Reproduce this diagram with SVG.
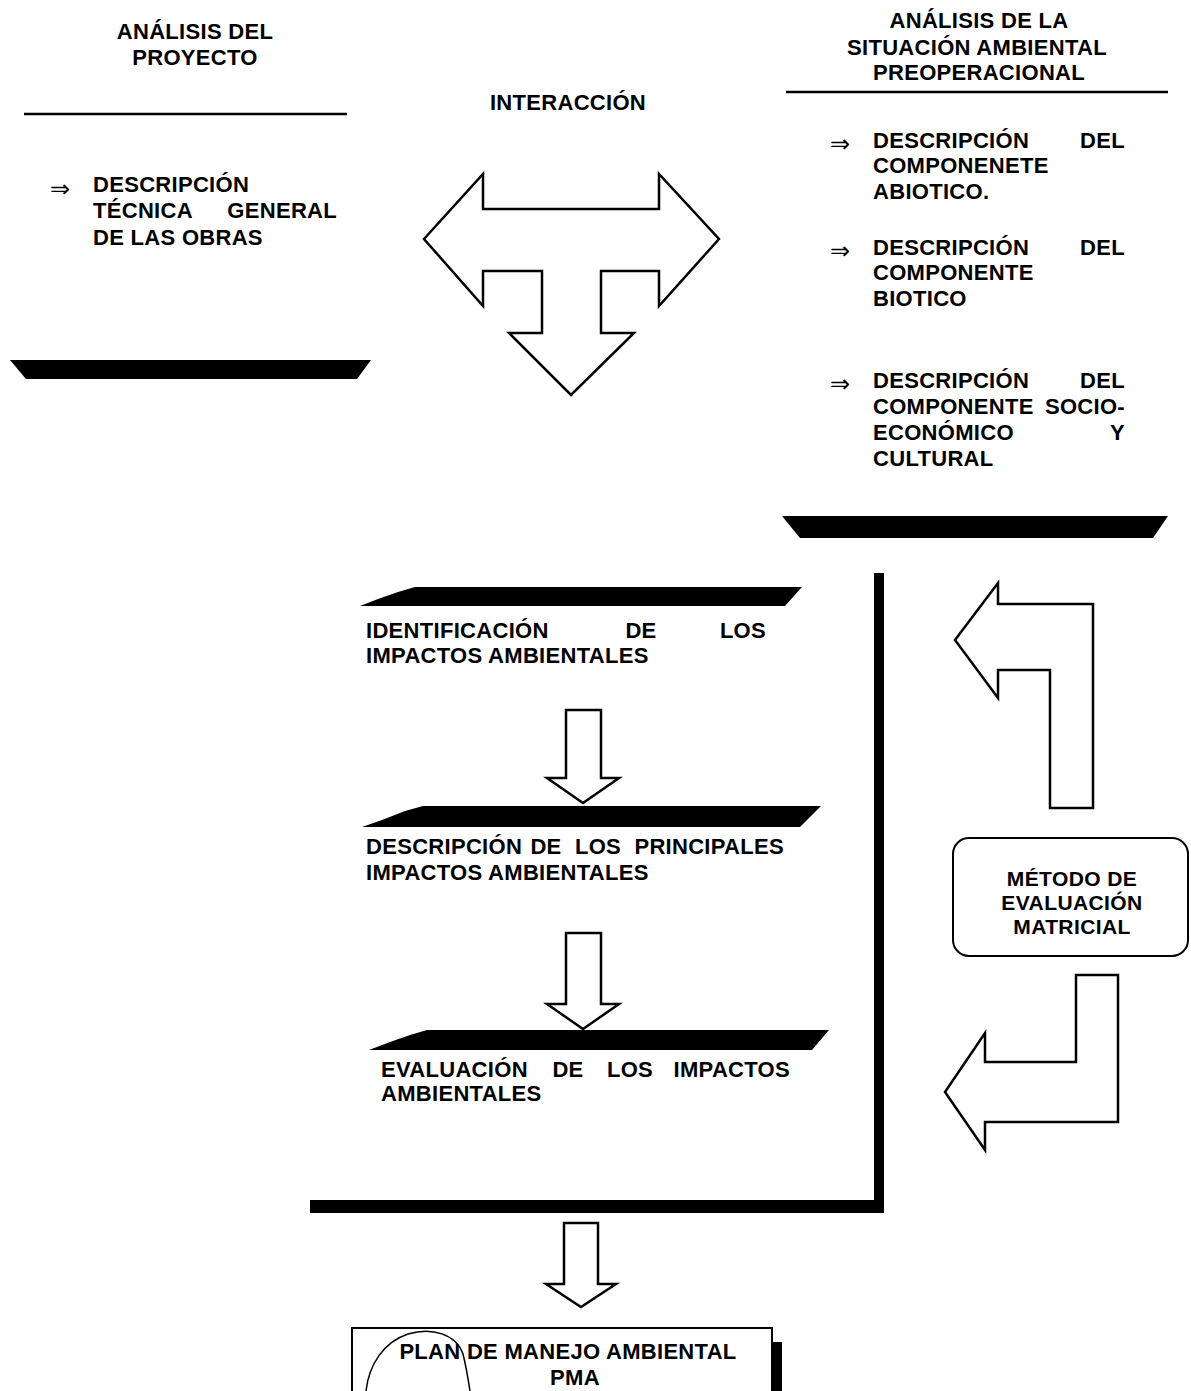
<svg xmlns="http://www.w3.org/2000/svg" width="1191" height="1391" viewBox="0 0 1191 1391">
<style>
.t{font-family:"Liberation Sans",Arial,sans-serif;font-weight:bold;font-size:22px;letter-spacing:0.3px;fill:#000}
.c{text-anchor:middle}
.b{font-family:"DejaVu Sans","Liberation Sans",sans-serif;font-size:24px;fill:#000}
.m{font-family:"Liberation Sans",Arial,sans-serif;font-weight:bold;font-size:21px;letter-spacing:0.4px;text-anchor:middle;fill:#000}
.ar{fill:#fff;stroke:#000;stroke-width:2.5;stroke-linejoin:miter}
.bar{fill:#000}
</style>
<rect width="1191" height="1391" fill="#fff"/>

<g id="analisis-proyecto">
<text class="t c" x="195" y="39">ANÁLISIS DEL</text>
<text class="t c" x="195" y="65">PROYECTO</text>
<line x1="24" y1="114" x2="347" y2="114" stroke="#000" stroke-width="2.5"/>
<text class="b" x="50" y="197">⇒</text>
<text class="t" x="93" y="192">DESCRIPCIÓN</text>
<text class="t" y="218"><tspan x="93">TÉCNICA</tspan><tspan x="337" text-anchor="end">GENERAL</tspan></text>
<text class="t" x="93" y="245">DE LAS OBRAS</text>
<polygon class="bar" points="10,360 371,360 357,379 26,379"/>
</g>

<g id="interaccion">
<text class="t c" x="568" y="110">INTERACCIÓN</text>
</g>

<g id="situacion-ambiental">
<text class="t c" x="979" y="28">ANÁLISIS DE LA</text>
<text class="t c" x="977" y="55">SITUACIÓN AMBIENTAL</text>
<text class="t c" x="979" y="80">PREOPERACIONAL</text>
<line x1="786" y1="92" x2="1168" y2="92" stroke="#000" stroke-width="2.5"/>
<text class="b" x="830" y="152">⇒</text>
<text class="t" y="148"><tspan x="873">DESCRIPCIÓN</tspan><tspan x="1125" text-anchor="end">DEL</tspan></text>
<text class="t" x="873" y="173">COMPONENETE</text>
<text class="t" x="873" y="199">ABIOTICO.</text>
<text class="b" x="830" y="259">⇒</text>
<text class="t" y="255"><tspan x="873">DESCRIPCIÓN</tspan><tspan x="1125" text-anchor="end">DEL</tspan></text>
<text class="t" x="873" y="280">COMPONENTE</text>
<text class="t" x="873" y="306">BIOTICO</text>
<text class="b" x="830" y="392">⇒</text>
<text class="t" y="388"><tspan x="873">DESCRIPCIÓN</tspan><tspan x="1125" text-anchor="end">DEL</tspan></text>
<text class="t" y="414"><tspan x="873">COMPONENTE</tspan><tspan x="1125" text-anchor="end">SOCIO-</tspan></text>
<text class="t" y="440"><tspan x="873">ECONÓMICO</tspan><tspan x="1125" text-anchor="end">Y</tspan></text>
<text class="t" x="873" y="466">CULTURAL</text>
<polygon class="bar" points="782,516 1168,516 1153,538 800,538"/>
</g>

<g id="identificacion">
<polygon class="bar" points="360,606 378,599 398,592 415,587 802,587 785,606"/>
<text class="t" y="638"><tspan x="366">IDENTIFICACIÓN</tspan><tspan x="641" text-anchor="middle">DE</tspan><tspan x="766" text-anchor="end">LOS</tspan></text>
<text class="t" x="366" y="663">IMPACTOS AMBIENTALES</text>
</g>

<g id="descripcion-impactos">
<polygon class="bar" points="362,827 382,820 405,811 423,806 821,806 800,827"/>
<text class="t" y="854"><tspan x="366">DESCRIPCIÓN</tspan><tspan x="546" text-anchor="middle">DE</tspan><tspan x="598" text-anchor="middle">LOS</tspan><tspan x="784" text-anchor="end">PRINCIPALES</tspan></text>
<text class="t" x="366" y="880">IMPACTOS AMBIENTALES</text>
</g>

<g id="evaluacion-impactos">
<polygon class="bar" points="369,1050 390,1042 410,1035 427,1030 829,1030 812,1050"/>
<text class="t" y="1077"><tspan x="381">EVALUACIÓN</tspan><tspan x="568" text-anchor="middle">DE</tspan><tspan x="630" text-anchor="middle">LOS</tspan><tspan x="790" text-anchor="end">IMPACTOS</tspan></text>
<text class="t" x="381" y="1101">AMBIENTALES</text>
</g>

<g id="marco">
<rect class="bar" x="874" y="573" width="10" height="640"/>
<rect class="bar" x="310" y="1200" width="574" height="13"/>
</g>

<g id="metodo">
<rect x="953" y="838" width="235" height="118" rx="16" ry="16" fill="#fff" stroke="#000" stroke-width="2"/>
<text class="m" x="1072" y="886">MÉTODO DE</text>
<text class="m" x="1072" y="910">EVALUACIÓN</text>
<text class="m" x="1072" y="934">MATRICIAL</text>
</g>

<g id="pma">
<rect x="352" y="1328" width="420" height="80" fill="#fff" stroke="#000" stroke-width="2"/>
<rect class="bar" x="772" y="1342" width="10" height="60"/>
<text class="t c" x="568" y="1359">PLAN DE MANEJO AMBIENTAL</text>
<text class="t c" x="575" y="1385">PMA</text>
<path d="M366,1391 C369,1364 384,1342 408,1334 C432,1327 456,1334 463,1354 C466,1366 468,1378 470,1391" fill="none" stroke="#000" stroke-width="1.5"/>
</g>

<g id="connectors">
<polygon class="ar" points="424,239 483,174 483,209 659,209 659,174 719,239 659,306 659,271 601,271 601,333 634,333 571,395 509,333 542,333 542,271 483,271 483,306"/>
<polygon class="ar" points="566,710 601,710 601,778 619,778 583,803 547,778 566,778"/>
<polygon class="ar" points="566,933 601,933 601,1004 619,1004 583,1029 547,1004 566,1004"/>
<polygon class="ar" points="564,1223 598,1223 598,1284 616,1284 581,1307 546,1284 564,1284"/>
<polygon class="ar" points="955,640 998,583 998,604 1093,604 1093,808 1050,808 1050,670 998,670 998,698"/>
<polygon class="ar" points="1076,975 1118,975 1118,1122 985,1122 985,1150 945,1092 985,1033 985,1062 1076,1062"/>
</g>
</svg>
